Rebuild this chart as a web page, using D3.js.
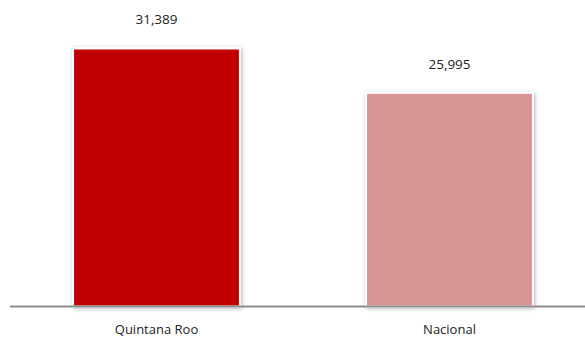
<!DOCTYPE html>
<html><head><meta charset="utf-8">
<script src="https://cdn.jsdelivr.net/npm/d3@7"></script>
<style>body{margin:0;background:#fff;}svg{display:block;}</style>
</head><body>
<script>
const categories = ["Quintana Roo", "Nacional"];
const values = [31389, 25995];
const colors = ["#C00000", "#D99594"];

const W = 585, H = 340;
const svg = d3.select("body").append("svg").attr("width", W).attr("height", H);

const defs = svg.append("defs");
const f = defs.append("filter").attr("id", "sh").attr("x", "-10%").attr("y", "-10%").attr("width", "120%").attr("height", "120%");
f.append("feDropShadow").attr("dx", 1).attr("dy", 1).attr("stdDeviation", 2).attr("flood-color", "#000").attr("flood-opacity", 0.3);

const x = d3.scaleBand().domain(categories).range([10, 596]).paddingInner(0.4305).paddingOuter(0.2152);
const y = d3.scaleLinear().domain([0, 35000]).range([306.5, 18.8]);

svg.selectAll("rect.bar").data(values).join("rect")
  .attr("class", "bar")
  .attr("x", (d, i) => x(categories[i]))
  .attr("width", x.bandwidth())
  .attr("y", d => y(d))
  .attr("height", d => y(0) - y(d))
  .attr("fill", (d, i) => colors[i])
  .attr("stroke", "#fff").attr("stroke-width", 2)
  .attr("filter", "url(#sh)");

svg.append("line").attr("x1", 10).attr("x2", W).attr("y1", y(0)).attr("y2", y(0))
  .attr("stroke", "#8c8c8c").attr("stroke-width", 2);

svg.selectAll("text.val").data(values).join("text")
  .attr("class", "val")
  .attr("x", (d, i) => x(categories[i]) + x.bandwidth() / 2)
  .attr("y", d => y(d) - 24)
  .attr("text-anchor", "middle")
  .attr("font-family", "'Open Sans', sans-serif").attr("font-size", 13.5)
  .attr("fill", "#222")
  .text(d => d3.format(",")(d));

const xAxis = svg.append("g").attr("transform", `translate(0,${y(0)})`)
  .call(d3.axisBottom(x).tickSize(0).tickPadding(18));
xAxis.select(".domain").remove();
xAxis.selectAll("text").attr("font-family", "'Open Sans', sans-serif").attr("font-size", 13).attr("fill", "#222");
</script>
</body></html>
